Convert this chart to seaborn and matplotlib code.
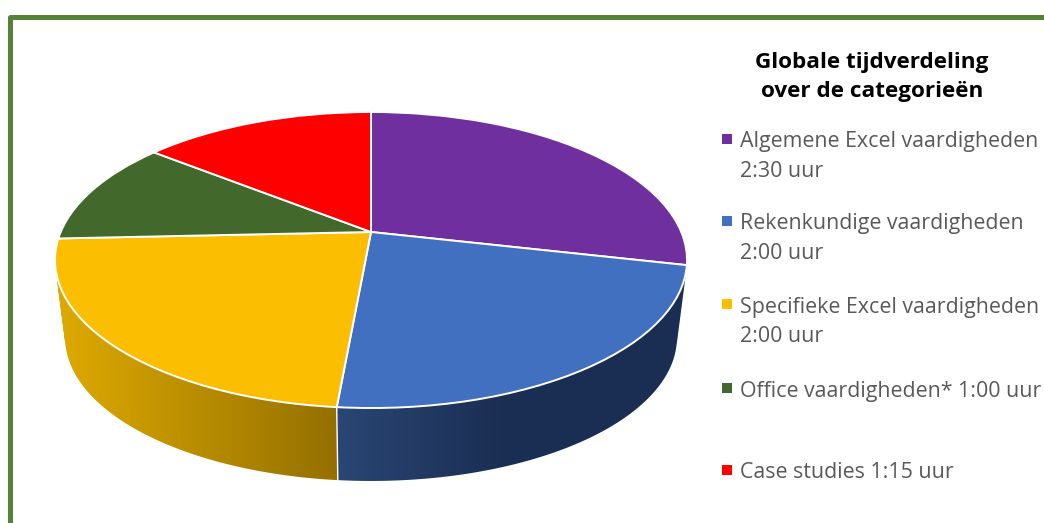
import numpy as np
import matplotlib
matplotlib.use('Agg')
import matplotlib.pyplot as plt
import matplotlib.transforms as mtransforms
from matplotlib.colors import LinearSegmentedColormap, Normalize
from matplotlib.path import Path
import seaborn as sns

minutes = [150, 120, 120, 60, 75]
slice_colors = ['#6F2F9F', '#4170C0', '#FBBE00', '#43682B', '#FE0000']
legend_lines = [
    'Algemene Excel vaardigheden\n2:30 uur',
    'Rekenkundige vaardigheden\n2:00 uur',
    'Specifieke Excel vaardigheden\n2:00 uur',
    'Office vaardigheden* 1:00 uur',
    'Case studies 1:15 uur',
]
title_text = 'Globale tijdverdeling\nover de categorieën'

sns.set_theme(style="white")
plt.rcParams['font.family'] = ['Open Sans', 'DejaVu Sans']


# unit circle -> tilted disc in pixel coordinates
def project(x, y, scale=1.0, cy=232.0):
    d = 1 + 0.1892 * y
    return 371 + scale * 310.3 * x / d, cy - scale * 142.7 * y / d


class Tilt(mtransforms.Transform):
    input_dims = 2
    output_dims = 2

    def transform_non_affine(self, values):
        px, py = project(values[:, 0], values[:, 1])
        return np.column_stack([px, py])


fig = plt.figure(figsize=(10.44, 5.23), dpi=100)
ax = fig.add_axes([0, 0, 1, 1])

palette = sns.color_palette(slice_colors)
wedges, _ = ax.pie(minutes, colors=palette, startangle=90, counterclock=False,
                   wedgeprops={'edgecolor': 'white', 'linewidth': 1.4})
for w in wedges:
    w.set_transform(Tilt() + ax.transData)
    w.set_zorder(3)

# side wall, only the two front slices show
edges = np.concatenate([[0], np.cumsum(minutes)]) / np.sum(minutes) * 2 * np.pi
walls = [
    (1, '#2A4674', '#1A2D52', 338, 510),
    (2, '#DCA800', '#947000', 65, 338),
]
for idx, c0, c1, x0, x1 in walls:
    t = np.linspace(edges[idx], edges[idx + 1], 160)
    ux, uy = np.sin(t), np.cos(t)
    tx, ty = project(ux, uy)
    bx, by = project(ux, uy, scale=0.968, cy=310.6)
    # one compound path out of all the quads, all wound the same way so nothing cancels
    verts, codes = [], []
    for i in range(len(t) - 1):
        quad = np.array([(tx[i], ty[i]), (tx[i + 1], ty[i + 1]), (bx[i + 1], by[i + 1]), (bx[i], by[i])])
        qx, qy = quad[:, 0], quad[:, 1]
        area = np.sum(qx * np.roll(qy, -1) - np.roll(qx, -1) * qy)
        if area < 0:
            quad = quad[::-1]
        verts += [tuple(p) for p in quad] + [tuple(quad[0])]
        codes += [Path.MOVETO, Path.LINETO, Path.LINETO, Path.LINETO, Path.CLOSEPOLY]
    outline = Path(verts, codes)
    cmap = LinearSegmentedColormap.from_list('wall', [c0, c1])
    img = ax.imshow(np.arange(1044)[None, :], extent=(0, 1044, 523, 0), aspect='auto',
                    cmap=cmap, norm=Normalize(x0, x1, clip=True),
                    interpolation='nearest', zorder=1)
    img.set_clip_path(outline, transform=ax.transData)

ax.set_aspect('auto')
ax.set_xlim(0, 1044)
ax.set_ylim(523, 0)
ax.axis('off')

# white seam between the two walls
t = edges[2]
sx0, sy0 = project(np.sin(t), np.cos(t))
sx1, sy1 = project(np.sin(t), np.cos(t), scale=0.968, cy=310.6)
ax.plot([sx0, sx1], [sy0, sy1], color='white', lw=1.0, zorder=2)

# green frame
ax.plot([9.5, 9.5, 1044], [523, 16.5, 16.5], color='#568238', lw=3.6,
        solid_joinstyle='round', zorder=4)

ax.text(872, 77, title_text, ha='center', va='center', fontsize=16.2, fontweight='bold',
        color='black', linespacing=1.53)

rows = [139, 221, 304, 388, 470]
for row, label, color in zip(rows, legend_lines, palette):
    ax.scatter([727], [row], marker='s', s=50, color=color, linewidths=0, zorder=4)
    ax.text(740, row - 7.5, label, ha='left', va='top', fontsize=15.4, color='#595959',
            linespacing=1.52)

plt.savefig('out.png', dpi=100)
